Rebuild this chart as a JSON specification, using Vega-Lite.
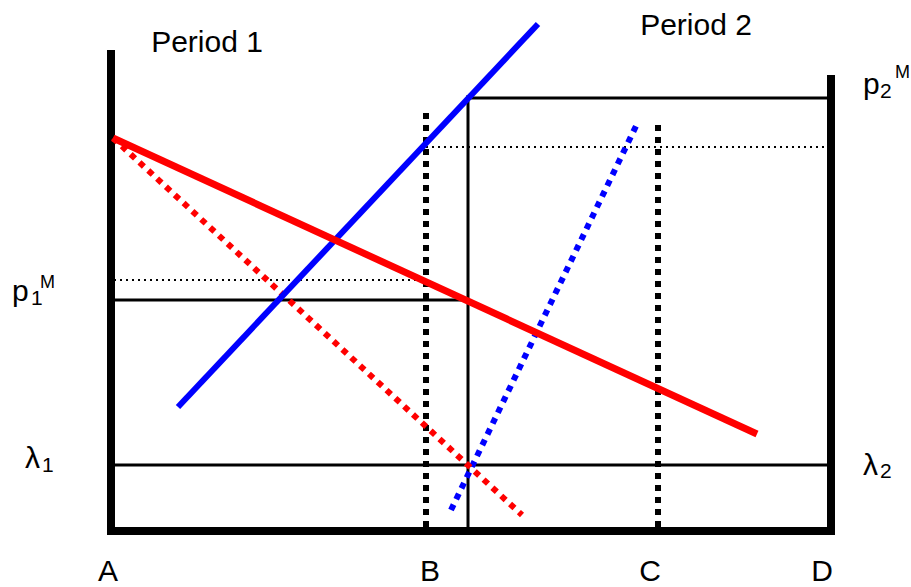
{
  "$schema": "https://vega.github.io/schema/vega-lite/v6.json",
  "width": 911,
  "height": 587,
  "padding": 0,
  "autosize": {"type": "none"},
  "config": {"view": {"stroke": null}, "font": "Liberation Sans"},
  "datasets": {
    "segs": [
      {"seg": "left", "kind": "axis", "pt": 0, "x": 0, "y": 481},
      {"seg": "left", "kind": "axis", "pt": 1, "x": 0, "y": -4},
      {"seg": "bottom", "kind": "axis", "pt": 0, "x": -4, "y": 0},
      {"seg": "bottom", "kind": "axis", "pt": 1, "x": 724, "y": 0},
      {"seg": "right", "kind": "axis", "pt": 0, "x": 720, "y": 456},
      {"seg": "right", "kind": "axis", "pt": 1, "x": 720, "y": -4},
      {"seg": "p2", "kind": "solid", "pt": 0, "x": 357, "y": 433},
      {"seg": "p2", "kind": "solid", "pt": 1, "x": 716, "y": 433},
      {"seg": "vert", "kind": "solid", "pt": 0, "x": 357, "y": 436},
      {"seg": "vert", "kind": "solid", "pt": 1, "x": 357, "y": 0},
      {"seg": "p1", "kind": "solid", "pt": 0, "x": 3, "y": 231},
      {"seg": "p1", "kind": "solid", "pt": 1, "x": 357, "y": 231},
      {"seg": "lam", "kind": "solid", "pt": 0, "x": 3, "y": 66},
      {"seg": "lam", "kind": "solid", "pt": 1, "x": 716, "y": 66},
      {"seg": "d1", "kind": "thinDot", "pt": 0, "x": 315, "y": 384},
      {"seg": "d1", "kind": "thinDot", "pt": 1, "x": 718, "y": 384},
      {"seg": "d2", "kind": "thinDot", "pt": 0, "x": 3, "y": 251},
      {"seg": "d2", "kind": "thinDot", "pt": 1, "x": 315, "y": 251},
      {"seg": "B", "kind": "thickDot", "pt": 0, "x": 315, "y": 418},
      {"seg": "B", "kind": "thickDot", "pt": 1, "x": 315, "y": 3},
      {"seg": "C", "kind": "thickDot", "pt": 0, "x": 547, "y": 406},
      {"seg": "C", "kind": "thickDot", "pt": 1, "x": 547, "y": 3},
      {"seg": "blue", "kind": "blue", "pt": 0, "x": 67, "y": 124},
      {"seg": "blue", "kind": "blue", "pt": 1, "x": 427, "y": 507},
      {"seg": "blueDot", "kind": "blueDot", "pt": 0, "x": 340, "y": 21},
      {"seg": "blueDot", "kind": "blueDot", "pt": 1, "x": 526, "y": 407},
      {"seg": "red", "kind": "red", "pt": 0, "x": 2, "y": 393},
      {"seg": "red", "kind": "red", "pt": 1, "x": 646, "y": 97},
      {"seg": "redDot", "kind": "redDot", "pt": 0, "x": 2, "y": 393},
      {"seg": "redDot", "kind": "redDot", "pt": 1, "x": 411, "y": 16}
    ],
    "labels": [
      {"role": "main", "text": "Period 1", "x": 96, "y": 479},
      {"role": "main", "text": "Period 2", "x": 585, "y": 496},
      {"role": "main", "text": "A", "x": -3, "y": -50},
      {"role": "main", "text": "B", "x": 319, "y": -50},
      {"role": "main", "text": "C", "x": 539, "y": -50},
      {"role": "main", "text": "D", "x": 711, "y": -50},
      {"role": "mainL", "text": "p", "x": -99, "y": 230},
      {"role": "sub", "text": "1", "x": -80, "y": 226},
      {"role": "sup", "text": "M", "x": -71, "y": 243},
      {"role": "mainL", "text": "p", "x": 752, "y": 437},
      {"role": "sub", "text": "2", "x": 769, "y": 433},
      {"role": "sup", "text": "M", "x": 784, "y": 453},
      {"role": "mainL", "text": "λ", "x": -86, "y": 63},
      {"role": "sub", "text": "1", "x": -69, "y": 59},
      {"role": "mainL", "text": "λ", "x": 752, "y": 56},
      {"role": "sub", "text": "2", "x": 769, "y": 53}
    ]
  },
  "encoding": {
    "x": {"field": "x", "type": "quantitative", "axis": null, "scale": {"domain": [-111, 800], "nice": false, "zero": false}},
    "y": {"field": "y", "type": "quantitative", "axis": null, "scale": {"domain": [-56, 531], "nice": false, "zero": false}}
  },
  "layer": [
    {"data": {"name": "segs"}, "transform": [{"filter": "datum.kind === 'thinDot'"}],
     "mark": {"type": "line", "color": "black", "strokeWidth": 2, "strokeDash": [2, 4]},
     "encoding": {"detail": {"field": "seg"}, "order": {"field": "pt"}}},
    {"data": {"name": "segs"}, "transform": [{"filter": "datum.kind === 'thickDot'"}],
     "mark": {"type": "line", "color": "black", "strokeWidth": 6, "strokeDash": [6, 6]},
     "encoding": {"detail": {"field": "seg"}, "order": {"field": "pt"}}},
    {"data": {"name": "segs"}, "transform": [{"filter": "datum.kind === 'solid'"}],
     "mark": {"type": "line", "color": "black", "strokeWidth": 3},
     "encoding": {"detail": {"field": "seg"}, "order": {"field": "pt"}}},
    {"data": {"name": "segs"}, "transform": [{"filter": "datum.kind === 'axis'"}],
     "mark": {"type": "line", "color": "black", "strokeWidth": 8},
     "encoding": {"detail": {"field": "seg"}, "order": {"field": "pt"}}},
    {"data": {"name": "segs"}, "transform": [{"filter": "datum.kind === 'blueDot'"}],
     "mark": {"type": "line", "color": "#0000FF", "strokeWidth": 6, "strokeDash": [6, 6]},
     "encoding": {"detail": {"field": "seg"}, "order": {"field": "pt"}}},
    {"data": {"name": "segs"}, "transform": [{"filter": "datum.kind === 'redDot'"}],
     "mark": {"type": "line", "color": "#FF0000", "strokeWidth": 6, "strokeDash": [6, 6]},
     "encoding": {"detail": {"field": "seg"}, "order": {"field": "pt"}}},
    {"data": {"name": "segs"}, "transform": [{"filter": "datum.kind === 'blue'"}],
     "mark": {"type": "line", "color": "#0000FF", "strokeWidth": 6},
     "encoding": {"detail": {"field": "seg"}, "order": {"field": "pt"}}},
    {"data": {"name": "segs"}, "transform": [{"filter": "datum.kind === 'red'"}],
     "mark": {"type": "line", "color": "#FF0000", "strokeWidth": 7},
     "encoding": {"detail": {"field": "seg"}, "order": {"field": "pt"}}},
    {"data": {"name": "labels"}, "transform": [{"filter": "datum.role === 'main'"}],
     "mark": {"type": "text", "fontSize": 30, "align": "center", "baseline": "alphabetic", "color": "black", "font": "Liberation Sans"},
     "encoding": {"text": {"field": "text"}}},
    {"data": {"name": "labels"}, "transform": [{"filter": "datum.role === 'mainL'"}],
     "mark": {"type": "text", "fontSize": 30, "align": "left", "baseline": "alphabetic", "color": "black", "font": "Liberation Sans"},
     "encoding": {"text": {"field": "text"}}},
    {"data": {"name": "labels"}, "transform": [{"filter": "datum.role === 'sub'"}],
     "mark": {"type": "text", "fontSize": 21, "align": "left", "baseline": "alphabetic", "color": "black", "font": "Liberation Sans"},
     "encoding": {"text": {"field": "text"}}},
    {"data": {"name": "labels"}, "transform": [{"filter": "datum.role === 'sup'"}],
     "mark": {"type": "text", "fontSize": 18, "align": "left", "baseline": "alphabetic", "color": "black", "font": "Liberation Sans"},
     "encoding": {"text": {"field": "text"}}}
  ]
}
